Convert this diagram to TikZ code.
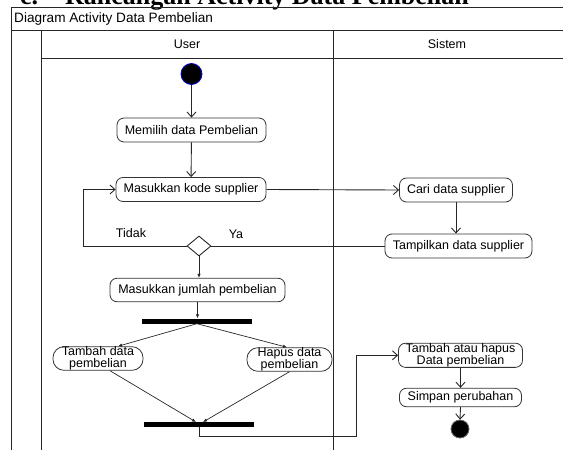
\documentclass[tikz,border=0pt]{standalone}
\usepackage{fontspec}
\setmainfont{Liberation Sans}
\newfontfamily\headfont{Liberation Serif}
\usetikzlibrary{arrows.meta,shapes.geometric}
\begin{document}
\begin{tikzpicture}[x=1pt,y=-1pt,
  frame/.style={draw=black!85, line width=1pt},
  act/.style={draw=black!80, line width=0.8pt, rounded corners=7pt, minimum height=24pt, inner sep=0pt, align=center, font=\fontsize{12.5}{12.5}\selectfont},
  pill/.style={draw=black!80, line width=0.8pt, rounded corners=11pt, minimum height=23pt, inner sep=0pt, align=center, font=\fontsize{12.5}{12}\selectfont},
  bar/.style={fill=black, minimum height=5pt, inner sep=0pt},
  opena/.style={draw=black!85, line width=0.9pt, -{Straight Barb[length=5pt,width=9pt]}},
  solida/.style={draw=black!85, line width=0.7pt, -{Latex[length=4pt,width=3.5pt]}},
  plain/.style={draw=black!85, line width=0.9pt},
  lbl/.style={font=\fontsize{12.5}{13}\selectfont, inner sep=0pt},
  headtxt/.style={anchor=base west, inner sep=0pt, font=\headfont\bfseries\fontsize{26}{28}\selectfont}
]
\useasboundingbox (0,0) rectangle (563,450);
% heading (cut off at the top)
\node[headtxt] (hc) at (20,4) {c.};
\node[headtxt] (ht) at (65,4) {Rancangan Activity Data Pembelian};
% frame
\draw[frame] (11,450) -- (11,7) -- (563,7);
\draw[frame] (11,30) -- (563,30);
\draw[frame] (41,450) -- (41,30);
\draw[frame] (41,58) -- (563,58);
\draw[frame] (333,450) -- (333,30);
\node[lbl, anchor=west, font=\fontsize{13.6}{14}\selectfont] (title) at (14,19) {Diagram Activity Data Pembelian};
\node[lbl] (lu) at (187,44) {User};
\node[lbl] (ls) at (447,44) {Sistem};
% nodes
\node[circle, fill=black, draw=blue!80!black, line width=0.8pt, minimum size=21pt, inner sep=0pt] (start) at (191.5,74) {};
\node[act, minimum width=149pt] (memilih) at (191.5,130) {Memilih data Pembelian};
\node[act, minimum width=150pt] (kode) at (191,189.5) {Masukkan kode supplier};
\node[act, minimum width=113pt] (cari) at (456,190) {Cari data supplier};
\node[act, minimum width=147pt] (tampil) at (458.5,246) {Tampilkan data supplier};
\node[diamond, draw=black!85, line width=0.9pt, minimum width=24pt, minimum height=20pt, inner sep=0pt] (dia) at (199,246) {};
\node[lbl] (tidak) at (131,233) {Tidak};
\node[lbl] (ya) at (236,234) {Ya};
\node[act, minimum width=175pt, minimum height=23.5pt] (jumlah) at (197.5,290) {Masukkan jumlah pembelian};
\node[bar, minimum width=110pt] (fork) at (197,321) {};
\node[pill, minimum width=90pt] (tambah) at (98,358.5) {Tambah data\\pembelian};
\node[pill, minimum width=85pt] (hapus) at (289.5,359.5) {Hapus data\\pembelian};
\node[bar, minimum width=110pt] (join) at (199,424.7) {};
\node[act, minimum width=124pt] (tah) at (460.5,355.3) {Tambah atau hapus\\Data pembelian};
\node[act, minimum width=122pt, minimum height=18.5pt] (simpan) at (460.5,397.5) {Simpan perubahan};
\node[circle, fill=black, draw=black!60, line width=0.8pt, minimum size=18pt, inner sep=0pt] (end) at (460,429) {};
\coordinate (loopA) at (83,246);
\coordinate (jc1) at (356,436);
% connectors
\draw[opena] (start) -- (memilih);
\draw[opena] (memilih) -- (kode);
\draw[opena] (kode.east) -- (cari.west);
\draw[opena] (cari.south) -- (cari.south |- tampil.north);
\draw[plain] (tampil.west) -- (dia.east);
\draw[opena] (dia.west) -- (loopA) |- (kode.west);
\draw[solida] (dia.south) -- (dia.south |- jumlah.north);
\draw[solida] (jumlah.south) -- (jumlah.south |- fork.north);
\draw[solida] (fork.south) -- ([xshift=20pt]tambah.north);
\draw[solida] (fork.south) -- ([xshift=-2.5pt]hapus.north);
\draw[solida] ([xshift=12pt]tambah.south) -- ([xshift=-3pt]join.north);
\draw[solida] (hapus.south) -- ([xshift=4pt]join.north);
\draw[opena] (join.south) |- (jc1) |- (tah.west);
\draw[opena] (tah.south) -- (simpan.north);
\draw[opena] (simpan.south) -- (end.north);
\end{tikzpicture}
\end{document}
